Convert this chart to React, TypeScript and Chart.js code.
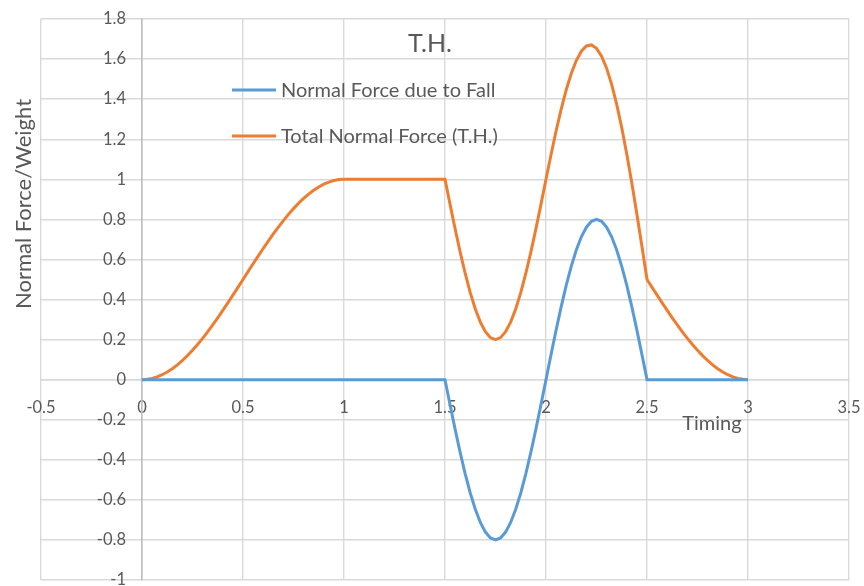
import React, { useEffect, useRef } from "react";
import { Chart, registerables } from "chart.js";

Chart.register(...registerables);

const timing = [
  0, 0.025, 0.05, 0.075, 0.1, 0.125, 0.15, 0.175, 0.2, 0.225,
  0.25, 0.275, 0.3, 0.325, 0.35, 0.375, 0.4, 0.425, 0.45, 0.475,
  0.5, 0.525, 0.55, 0.575, 0.6, 0.625, 0.65, 0.675, 0.7, 0.725,
  0.75, 0.775, 0.8, 0.825, 0.85, 0.875, 0.9, 0.925, 0.95, 0.975,
  1, 1.025, 1.05, 1.075, 1.1, 1.125, 1.15, 1.175, 1.2, 1.225,
  1.25, 1.275, 1.3, 1.325, 1.35, 1.375, 1.4, 1.425, 1.45, 1.475,
  1.5, 1.525, 1.55, 1.575, 1.6, 1.625, 1.65, 1.675, 1.7, 1.725,
  1.75, 1.775, 1.8, 1.825, 1.85, 1.875, 1.9, 1.925, 1.95, 1.975,
  2, 2.025, 2.05, 2.075, 2.1, 2.125, 2.15, 2.175, 2.2, 2.225,
  2.25, 2.275, 2.3, 2.325, 2.35, 2.375, 2.4, 2.425, 2.45, 2.475,
  2.5, 2.525, 2.55, 2.575, 2.6, 2.625, 2.65, 2.675, 2.7, 2.725,
  2.75, 2.775, 2.8, 2.825, 2.85, 2.875, 2.9, 2.925, 2.95, 2.975,
  3,
];

const fallForce = [
  0, 0, 0, 0, 0, 0, 0, 0, 0, 0,
  0, 0, 0, 0, 0, 0, 0, 0, 0, 0,
  0, 0, 0, 0, 0, 0, 0, 0, 0, 0,
  0, 0, 0, 0, 0, 0, 0, 0, 0, 0,
  0, 0, 0, 0, 0, 0, 0, 0, 0, 0,
  0, 0, 0, 0, 0, 0, 0, 0, 0, 0,
  0, -0.1251, -0.2472, -0.3632, -0.4702, -0.5657, -0.6472, -0.7128, -0.7608, -0.7902,
  -0.8, -0.7902, -0.7608, -0.7128, -0.6472, -0.5657, -0.4702, -0.3632, -0.2472, -0.1251,
  0, 0.1251, 0.2472, 0.3632, 0.4702, 0.5657, 0.6472, 0.7128, 0.7608, 0.7902,
  0.8, 0.7902, 0.7608, 0.7128, 0.6472, 0.5657, 0.4702, 0.3632, 0.2472, 0.1251,
  0, 0, 0, 0, 0, 0, 0, 0, 0, 0,
  0, 0, 0, 0, 0, 0, 0, 0, 0, 0,
  0,
];

const totalForce = [
  0, 0.0015, 0.0062, 0.0138, 0.0245, 0.0381, 0.0545, 0.0737, 0.0955, 0.1198,
  0.1464, 0.1753, 0.2061, 0.2388, 0.273, 0.3087, 0.3455, 0.3833, 0.4218, 0.4608,
  0.5, 0.5392, 0.5782, 0.6167, 0.6545, 0.6913, 0.727, 0.7613, 0.7939, 0.8247,
  0.8536, 0.8802, 0.9045, 0.9263, 0.9455, 0.9619, 0.9755, 0.9862, 0.9938, 0.9985,
  1, 1, 1, 1, 1, 1, 1, 1, 1, 1,
  1, 1, 1, 1, 1, 1, 1, 1, 1, 1,
  1, 0.8749, 0.7528, 0.6368, 0.5298, 0.4343, 0.3528, 0.2872, 0.2392, 0.2098,
  0.2, 0.2098, 0.2392, 0.2872, 0.3528, 0.4343, 0.5298, 0.6368, 0.7528, 0.8749,
  1, 1.1236, 1.241, 1.3494, 1.4457, 1.5276, 1.5927, 1.6391, 1.6653, 1.6704,
  1.6536, 1.6149, 1.5547, 1.4741, 1.3742, 1.257, 1.1247, 0.9799, 0.8254, 0.6643,
  0.5, 0.4608, 0.4218, 0.3833, 0.3455, 0.3087, 0.273, 0.2388, 0.2061, 0.1753,
  0.1464, 0.1198, 0.0955, 0.0737, 0.0545, 0.0381, 0.0245, 0.0138, 0.0062, 0.0015,
  0,
];

const seriesNames = ["Normal Force due to Fall", "Total Normal Force (T.H.)"];
const chartTitle = "T.H.";
const xTitle = "Timing";
const yTitle = "Normal Force/Weight";

const BLUE = "#5B9BD5";
const ORANGE = "#ED7D31";
const TEXT = "#595959";
const GRID = "#D9D9D9";
const FONT = "Lato, 'Open Sans', sans-serif";

const fmt = (v: any) => {
  const r = Math.round(Number(v) * 10) / 10;
  return String(r === 0 ? 0 : r);
};

const zeroPad = (scale: any) => {
  scale.paddingTop = 0;
  scale.paddingBottom = 0;
  scale.paddingLeft = 0;
  scale.paddingRight = 0;
};

export default function App() {
  const ref = useRef<HTMLCanvasElement | null>(null);

  useEffect(() => {
    if (!ref.current) return;

    const shiftYLabels = {
      id: "shiftYLabels",
      beforeDraw(chart: any) {
        const s = chart.scales.y;
        const items = s.getLabelItems();
        if (!(items as any).__shifted) {
          for (const it of items) it.options.translation[0] -= 16;
          (items as any).__shifted = true;
        }
      },
    };

    const overlay = {
      id: "overlay",
      afterDraw(chart: any) {
        const ctx = chart.ctx;
        ctx.save();
        ctx.fillStyle = TEXT;
        ctx.textBaseline = "middle";
        ctx.font = `25px ${FONT}`;
        ctx.textAlign = "center";
        ctx.fillText(chartTitle, 430, 44);
        ctx.font = `20px ${FONT}`;
        ctx.fillText(xTitle, 712, 424);
        ctx.save();
        ctx.translate(24, 204);
        ctx.rotate(-Math.PI / 2);
        ctx.font = `22px ${FONT}`;
        ctx.fillText(yTitle, 0, 0);
        ctx.restore();
        const items = [
          { c: BLUE, t: seriesNames[0], y: 90 },
          { c: ORANGE, t: seriesNames[1], y: 136 },
        ];
        ctx.font = `20px ${FONT}`;
        ctx.textAlign = "left";
        for (const it of items) {
          ctx.strokeStyle = it.c;
          ctx.lineWidth = 3;
          ctx.beginPath();
          ctx.moveTo(232, it.y);
          ctx.lineTo(276, it.y);
          ctx.stroke();
          ctx.fillText(it.t, 281, it.y + 1);
        }
        ctx.restore();
      },
    };

    const chart = new Chart(ref.current, {
      type: "line",
      data: {
        datasets: [
          {
            label: seriesNames[0],
            data: timing.map((x, i) => ({ x, y: fallForce[i] })),
            borderColor: BLUE,
            backgroundColor: BLUE,
            borderWidth: 3,
            pointRadius: 0,
            tension: 0,
          },
          {
            label: seriesNames[1],
            data: timing.map((x, i) => ({ x, y: totalForce[i] })),
            borderColor: ORANGE,
            backgroundColor: ORANGE,
            borderWidth: 3,
            pointRadius: 0,
            tension: 0,
          },
        ],
      },
      options: {
        animation: false,
        responsive: true,
        maintainAspectRatio: false,
        layout: { padding: { left: 41, right: 15, top: 19, bottom: 20 } },
        plugins: {
          legend: { display: false },
          title: { display: false },
          tooltip: { enabled: false },
        },
        scales: {
          x: {
            type: "linear",
            min: -0.5,
            max: 3.5,
            position: { y: 0 } as any,
            afterFit: zeroPad,
            ticks: {
              stepSize: 0.5,
              color: TEXT,
              font: { family: FONT, size: 16.5 },
              padding: 18,
              maxRotation: 0,
              callback: fmt,
            },
            grid: { color: GRID, lineWidth: 1.4, drawTicks: false },
            border: { color: GRID, width: 1.4 },
          },
          y: {
            type: "linear",
            min: -1,
            max: 1.8,
            position: { x: 0 } as any,
            afterFit: zeroPad,
            ticks: {
              stepSize: 0.2,
              color: TEXT,
              font: { family: FONT, size: 16.5 },
              padding: 0,
              callback: fmt,
            },
            grid: { color: GRID, lineWidth: 1.4, drawTicks: false },
            border: { color: "#BFBFBF", width: 1.6 },
          },
        },
      },
      plugins: [shiftYLabels, overlay],
    });
    return () => chart.destroy();
  }, []);

  return (
    <div style={{ position: "fixed", left: 0, top: 0, width: 864, height: 600, background: "#fff" }}>
      <canvas ref={ref} />
    </div>
  );
}
